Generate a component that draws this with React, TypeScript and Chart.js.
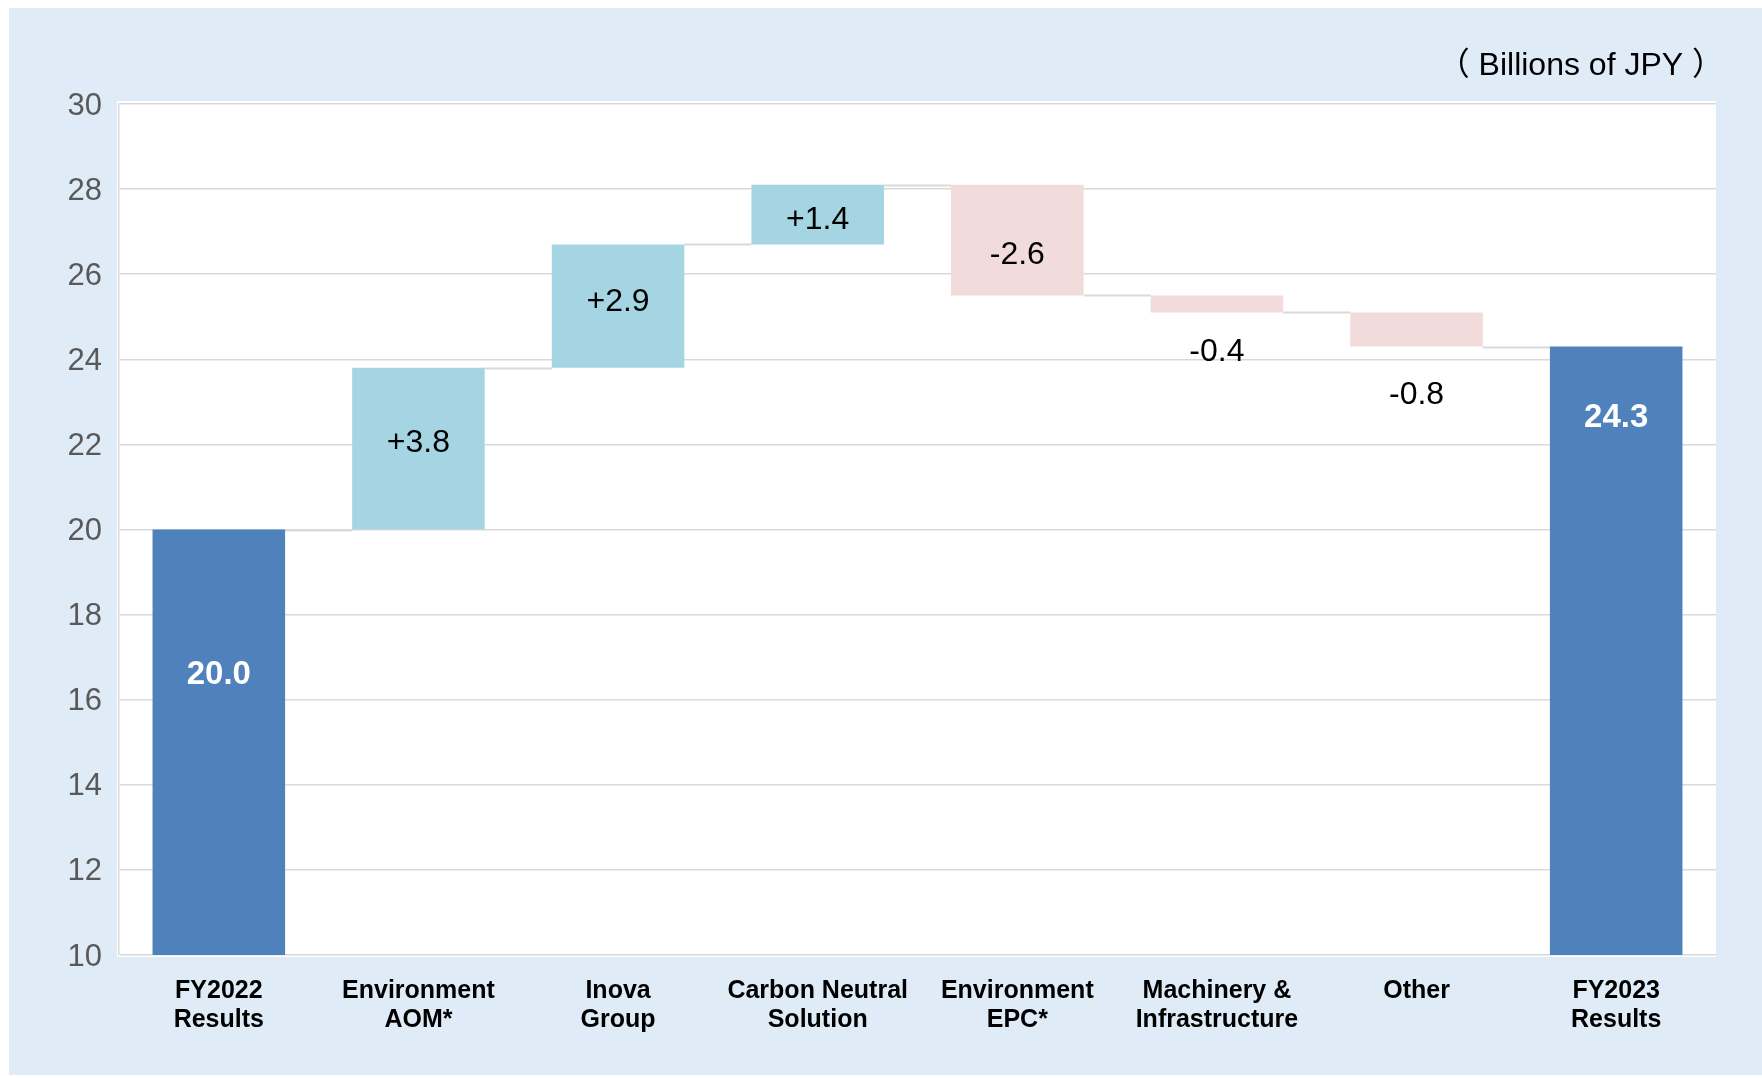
import { useEffect, useRef } from 'react';
import { Chart, registerables } from 'chart.js';

Chart.register(...registerables);

// ---------------- data ----------------
const categories: string[][] = [
  ['FY2022', 'Results'],
  ['Environment', 'AOM*'],
  ['Inova', 'Group'],
  ['Carbon Neutral', 'Solution'],
  ['Environment', 'EPC*'],
  ['Machinery &', 'Infrastructure'],
  ['Other'],
  ['FY2023', 'Results'],
];
const startTotal = 20.0;
const changes = [3.8, 2.9, 1.4, -2.6, -0.4, -0.8];
const endTotal = 24.3;
const valueLabels = ['20.0', '+3.8', '+2.9', '+1.4', '-2.6', '-0.4', '-0.8', '24.3'];
const yMin = 10;
const yMax = 30;
const yStep = 2;
const unitLabel = '（ Billions of JPY ）';

// ---------------- styles ----------------
const W = 1762;
const H = 1078;
const FONT = "'Liberation Sans', Arial, Helvetica, sans-serif";
const TOTAL_COLOR = '#4F81BD';
const UP_COLOR = '#A5D5E2';
const DOWN_COLOR = '#F2DCDB';
const GRID_COLOR = '#D9D9D9';
const PANEL_COLOR = '#DFECF8';
// label placement tweaks (pixels): totals from bar top, big deltas from centre, small deltas from bottom
const LABEL_DY = [145, -5, -4, 6, 15, 40, 49, 71];

function buildBars() {
  const bars: [number, number][] = [];
  const colors: string[] = [];
  bars.push([yMin, startTotal]);
  colors.push(TOTAL_COLOR);
  let run = startTotal;
  for (const c of changes) {
    bars.push([run, run + c]);
    colors.push(c >= 0 ? UP_COLOR : DOWN_COLOR);
    run += c;
  }
  bars.push([yMin, endTotal]);
  colors.push(TOTAL_COLOR);
  return { bars, colors };
}

export default function App() {
  const ref = useRef<HTMLCanvasElement | null>(null);

  useEffect(() => {
    const canvas = ref.current;
    if (!canvas) return;
    const { bars, colors } = buildBars();
    const n = bars.length;

    const bgPlugin = {
      id: 'bgPanel',
      beforeDraw(chart: any) {
        const { ctx, chartArea } = chart;
        ctx.save();
        ctx.fillStyle = '#FFFFFF';
        ctx.fillRect(0, 0, W, H);
        ctx.fillStyle = PANEL_COLOR;
        ctx.fillRect(9, 8, W - 9, H - 11);
        ctx.fillStyle = '#FFFFFF';
        ctx.fillRect(chartArea.left - 2, chartArea.top - 3, chartArea.right - chartArea.left + 2, chartArea.bottom - chartArea.top + 5);
        // unit label
        ctx.fillStyle = '#000000';
        ctx.font = `32px ${FONT}, 'Noto Sans CJK JP'`;
        ctx.textAlign = 'right';
        ctx.textBaseline = 'middle';
        ctx.fillText(unitLabel, 1724, 66);
        ctx.restore();
      },
    };

    const connectorPlugin = {
      id: 'connectors',
      beforeDatasetsDraw(chart: any) {
        const { ctx } = chart;
        const meta = chart.getDatasetMeta(0);
        const yScale = chart.scales.y;
        ctx.save();
        ctx.strokeStyle = GRID_COLOR;
        ctx.lineWidth = 2;
        for (let i = 0; i < n - 1; i++) {
          const a = meta.data[i] as any;
          const b = meta.data[i + 1] as any;
          const level = bars[i][1];
          const y = Math.round(yScale.getPixelForValue(level)) + 0.5;
          ctx.beginPath();
          ctx.moveTo(a.x + a.width / 2, y);
          ctx.lineTo(b.x - b.width / 2, y);
          ctx.stroke();
        }
        ctx.restore();
      },
    };

    const labelPlugin = {
      id: 'valueLabels',
      afterDatasetsDraw(chart: any) {
        const { ctx } = chart;
        const meta = chart.getDatasetMeta(0);
        ctx.save();
        ctx.textAlign = 'center';
        ctx.textBaseline = 'middle';
        for (let i = 0; i < n; i++) {
          const el = meta.data[i] as any;
          const top = Math.min(el.y, el.base);
          const bottom = Math.max(el.y, el.base);
          const isTotal = i === 0 || i === n - 1;
          let y: number;
          if (isTotal) {
            ctx.font = `bold 33px ${FONT}`;
            ctx.fillStyle = '#FFFFFF';
            y = top + LABEL_DY[i];
          } else {
            ctx.font = `32px ${FONT}`;
            ctx.fillStyle = '#000000';
            if (bottom - top >= 40) y = (top + bottom) / 2 + LABEL_DY[i];
            else y = bottom + LABEL_DY[i];
          }
          ctx.fillText(valueLabels[i], el.x, y);
        }
        ctx.restore();
      },
    };

    const chart = new Chart(canvas, {
      type: 'bar',
      data: {
        labels: categories,
        datasets: [
          {
            data: bars as any,
            backgroundColor: colors,
            borderWidth: 0,
            barPercentage: 0.664,
            categoryPercentage: 1,
          },
        ],
      },
      options: {
        animation: false,
        responsive: false,
        maintainAspectRatio: false,
        devicePixelRatio: 1,
        layout: { padding: { left: 0, right: 46, top: 104, bottom: 0 } },
        plugins: {
          legend: { display: false },
          tooltip: { enabled: false },
          title: { display: false },
        },
        scales: {
          x: {
            grid: { display: false, drawTicks: false },
            border: { display: false },
            ticks: {
              color: '#000000',
              font: { family: FONT, size: 25, weight: 'bold', lineHeight: 1.18 },
              padding: 21,
              maxRotation: 0,
              autoSkip: false,
            },
            afterFit(scale: any) {
              scale.height = H - 955;
            },
          },
          y: {
            min: yMin,
            max: yMax,
            grid: { color: GRID_COLOR, lineWidth: 1.5, drawTicks: false },
            border: { display: true, color: GRID_COLOR, width: 1.5 },
            ticks: {
              stepSize: yStep,
              color: '#595959',
              font: { family: FONT, size: 31 },
              padding: 17,
              labelOffset: 2,
            },
            afterFit(scale: any) {
              scale.width = 119;
            },
          },
        },
      },
      plugins: [bgPlugin, connectorPlugin, labelPlugin],
    });

    return () => {
      chart.destroy();
    };
  }, []);

  return (
    <div style={{ position: 'fixed', left: 0, top: 0, width: W, height: H, background: '#FFFFFF' }}>
      <canvas ref={ref} width={W} height={H} style={{ display: 'block', width: W, height: H }} />
    </div>
  );
}
